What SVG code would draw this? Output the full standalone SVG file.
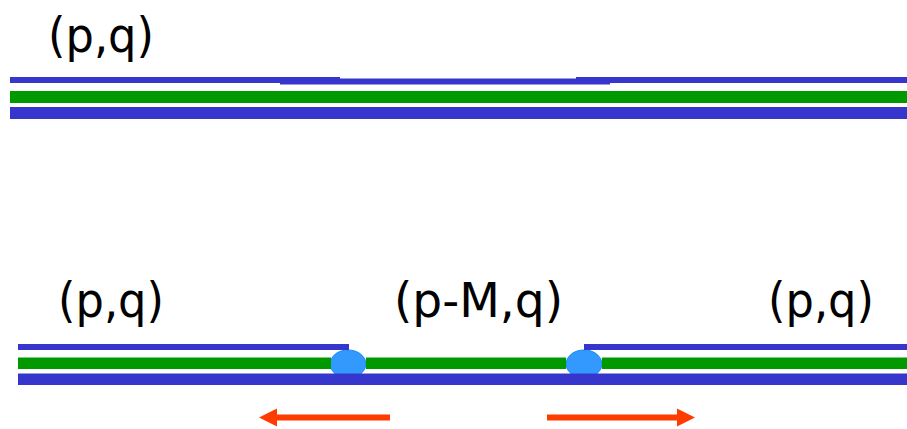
<svg xmlns="http://www.w3.org/2000/svg" width="907" height="429" viewBox="0 0 907 429">
<defs>
<style>
.blue{fill:#3636cc}
.green{fill:#009900}
.lbl{font-family:"DejaVu Sans","Verdana",sans-serif;font-size:48px;fill:#000}
.bub{fill:#3399ff;stroke:#1a8cf0;stroke-width:1}
.arr{stroke:#ff3c00;stroke-width:6;fill:none}
.head{fill:#ff3c00}
</style>
</defs>
<rect width="907" height="429" fill="#ffffff"/>
<g id="top-strand">
<rect class="blue" x="10" y="77" width="330" height="6"/>
<rect class="blue" x="280" y="78.5" width="330" height="6"/>
<rect class="blue" x="576" y="77" width="331" height="6"/>
<rect class="green" x="10" y="91" width="897" height="12"/>
<rect class="blue" x="10" y="107" width="897" height="12"/>
<text class="lbl" x="48" y="52" textLength="106" lengthAdjust="spacingAndGlyphs">(p,q)</text>
</g>
<g id="bottom-strand">
<ellipse class="bub" cx="348" cy="364" rx="18" ry="14"/>
<ellipse class="bub" cx="584" cy="364" rx="18" ry="14"/>
<rect class="blue" x="18" y="344" width="331" height="6"/>
<rect class="blue" x="584" y="344" width="323" height="6"/>
<rect class="green" x="18" y="357.5" width="313" height="11.5"/>
<rect class="green" x="366" y="357.5" width="200" height="11.5"/>
<rect class="green" x="602" y="357.5" width="305" height="11.5"/>
<rect class="blue" x="18" y="373.5" width="889" height="11.5"/>
<text class="lbl" x="58" y="317" textLength="106" lengthAdjust="spacingAndGlyphs">(p,q)</text>
<text class="lbl" x="394" y="317" textLength="169" lengthAdjust="spacingAndGlyphs">(p-M,q)</text>
<text class="lbl" x="768" y="317" textLength="106" lengthAdjust="spacingAndGlyphs">(p,q)</text>
</g>
<g id="connectors">
<line class="arr" x1="390" y1="417.5" x2="274" y2="417.5"/>
<polygon class="head" points="259,417.5 277,408.5 277,426.5"/>
<line class="arr" x1="547" y1="417.5" x2="680" y2="417.5"/>
<polygon class="head" points="695,417.5 677,408.5 677,426.5"/>
</g>
</svg>
